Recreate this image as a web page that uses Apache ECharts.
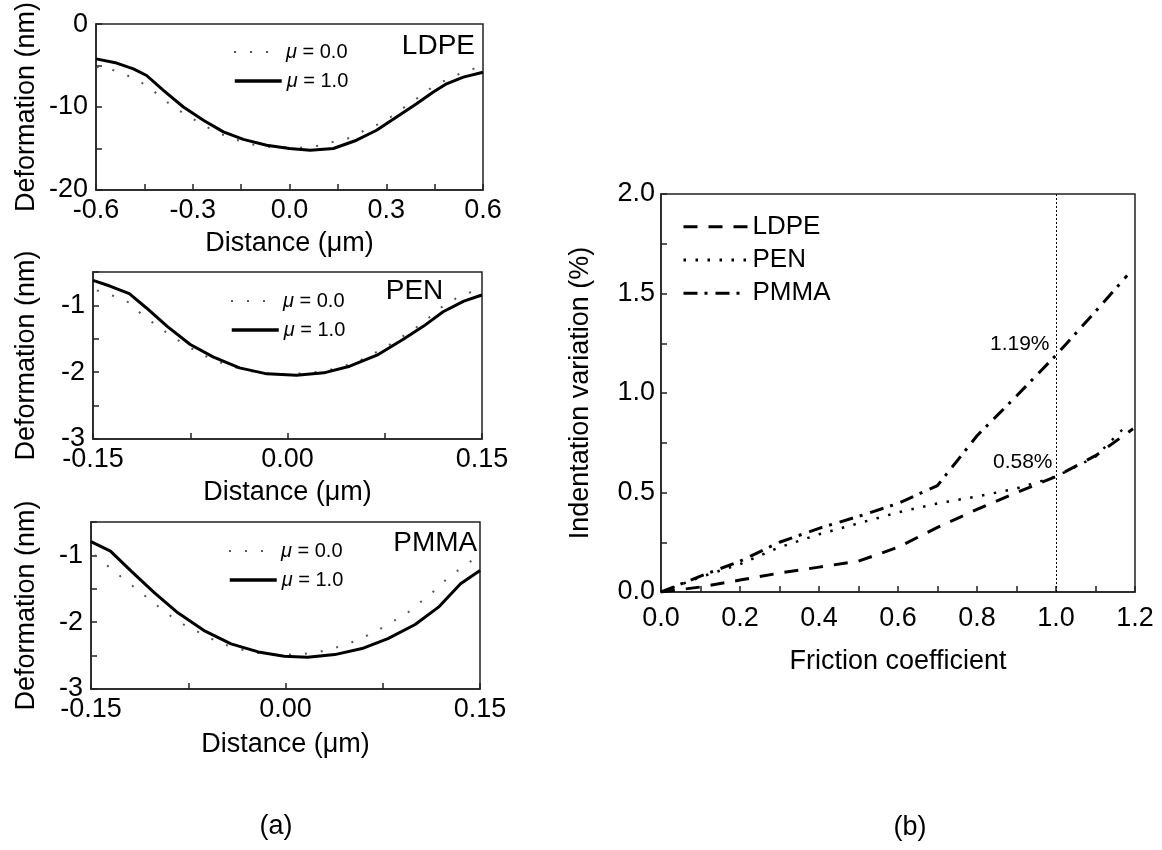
<!DOCTYPE html>
<html>
<head>
<meta charset="utf-8">
<style>
  html, body { margin: 0; padding: 0; background: #fff; }
  #chart { width: 1162px; height: 850px; }
</style>
<script src="https://cdn.jsdelivr.net/npm/echarts@6/dist/echarts.min.js"></script>
</head>
<body>
<div id="chart"></div>
<script>
// ---- (a) surface deformation profiles, LDPE ----
const ldpeDist0 = [-0.598, -0.567, -0.52, -0.474, -0.433, -0.393, -0.352, -0.309, -0.262, -0.216, -0.169, -0.117, -0.066, 0.033, 0.084, 0.136, 0.188, 0.234, 0.279, 0.322, 0.364, 0.405, 0.446, 0.493, 0.539, 0.586];
const ldpeDef0  = [-5.2, -5.3, -5.9, -6.7, -7.7, -9.0, -10.2, -11.2, -12.3, -13.2, -13.9, -14.5, -14.8, -14.9, -14.7, -14.2, -13.7, -12.8, -12.0, -11.0, -9.8, -8.7, -7.5, -6.6, -5.8, -5.2];
const ldpeDist1 = [-0.6, -0.536, -0.484, -0.443, -0.391, -0.329, -0.267, -0.205, -0.143, -0.071, 0.0, 0.064, 0.136, 0.208, 0.27, 0.332, 0.394, 0.446, 0.487, 0.539, 0.6];
const ldpeDef1  = [-4.2, -4.7, -5.4, -6.2, -8.0, -10.0, -11.6, -13.0, -13.9, -14.6, -15.0, -15.2, -15.0, -14.0, -12.8, -11.2, -9.6, -8.2, -7.2, -6.4, -5.8];

// ---- PEN ----
const penDist0 = [-0.147, -0.134, -0.122, -0.113, -0.102, -0.092, -0.08, -0.069, -0.058, -0.046, -0.034, -0.021, -0.008, 0.005, 0.018, 0.031, 0.043, 0.055, 0.066, 0.077, 0.088, 0.099, 0.109, 0.119, 0.13, 0.142];
const penDef0  = [-0.775, -0.86, -0.96, -1.125, -1.285, -1.425, -1.575, -1.7, -1.81, -1.895, -1.96, -2.01, -2.035, -2.025, -2.01, -1.975, -1.91, -1.835, -1.725, -1.61, -1.475, -1.335, -1.185, -1.025, -0.895, -0.795];
const penDist1 = [-0.15, -0.137, -0.122, -0.109, -0.093, -0.075, -0.057, -0.037, -0.016, 0.007, 0.028, 0.048, 0.069, 0.089, 0.105, 0.12, 0.136, 0.15];
const penDef1  = [-0.625, -0.71, -0.825, -1.035, -1.31, -1.585, -1.775, -1.935, -2.025, -2.045, -2.01, -1.91, -1.745, -1.51, -1.31, -1.095, -0.935, -0.845];

// ---- PMMA ----
const pmmaDist0 = [-0.147, -0.136, -0.126, -0.116, -0.105, -0.095, -0.085, -0.074, -0.062, -0.051, -0.039, -0.026, -0.013, 0.001, 0.014, 0.026, 0.038, 0.05, 0.062, 0.073, 0.084, 0.095, 0.105, 0.115, 0.124, 0.134, 0.145];
const pmmaDef0  = [-0.995, -1.175, -1.335, -1.485, -1.66, -1.81, -1.96, -2.085, -2.195, -2.31, -2.385, -2.445, -2.485, -2.485, -2.475, -2.445, -2.385, -2.31, -2.21, -2.1, -1.975, -1.845, -1.685, -1.525, -1.36, -1.21, -1.06];
const pmmaDist1 = [-0.15, -0.135, -0.119, -0.101, -0.083, -0.062, -0.042, -0.021, -0.001, 0.017, 0.038, 0.059, 0.079, 0.1, 0.118, 0.135, 0.15];
const pmmaDef1  = [-0.795, -0.935, -1.235, -1.56, -1.86, -2.135, -2.325, -2.445, -2.51, -2.525, -2.485, -2.395, -2.245, -2.035, -1.775, -1.425, -1.225];

// ---- (b) indentation variation vs. friction coefficient ----
const ldpeFriction = [0, 0.1, 0.2, 0.3, 0.4, 0.5, 0.6, 0.7, 0.8, 0.9, 1.0, 1.1, 1.195];
const ldpeVariation = [0, 0.025, 0.06, 0.095, 0.125, 0.155, 0.225, 0.325, 0.415, 0.5, 0.58, 0.685, 0.82];
const penFriction = [0, 0.1, 0.2, 0.3, 0.4, 0.5, 0.6, 0.7, 0.8, 0.9, 1.0, 1.1, 1.18];
const penVariation = [0, 0.075, 0.14, 0.225, 0.29, 0.345, 0.4, 0.445, 0.48, 0.52, 0.58, 0.68, 0.84];
const pmmaFriction = [0, 0.1, 0.2, 0.3, 0.4, 0.5, 0.6, 0.7, 0.8, 0.9, 1.0, 1.1, 1.18];
const pmmaVariation = [0, 0.08, 0.155, 0.25, 0.32, 0.38, 0.445, 0.535, 0.785, 0.985, 1.19, 1.41, 1.59];

// values called out at mu = 1.0
const refFriction = 1.0;
const noteFriction = [1.0, 1.0];
const noteVariation = [1.19, 0.58];

const muLabels = ['μ = 0.0', 'μ = 1.0'];
const materials = ['LDPE', 'PEN', 'PMMA'];

const FONT = "'Liberation Sans', Arial, Helvetica, sans-serif";
const AX = '#222';

function pairs(xs, ys) { return xs.map((x, i) => [x, ys[i]]); }

function baseAxis(gridIndex, o) {
  return Object.assign({
    type: 'value',
    gridIndex: gridIndex,
    nameLocation: 'middle',
    nameTextStyle: { fontSize: 27, color: '#000', fontFamily: FONT },
    axisLine: { show: true, onZero: false, lineStyle: { color: AX, width: 1.5 } },
    axisTick: { show: true, inside: true, length: 6, lineStyle: { color: AX, width: 1.5 } },
    axisLabel: { fontSize: 27, color: '#000', fontFamily: FONT, margin: 8, showMinLabel: true, showMaxLabel: true },
    splitLine: { show: false }
  }, o);
}

function withFmt(axis, fmt, margin) {
  axis.axisLabel = Object.assign({}, axis.axisLabel, { formatter: fmt });
  if (margin !== undefined) axis.axisLabel.margin = margin;
  return axis;
}

const fmtX1 = v => (Math.round(v / 0.15) % 2 === 0) ? (Math.abs(v) < 1e-9 ? 0 : v).toFixed(1) : '';
const fmtY1 = v => (Math.round(v / 5) % 2 === 0) ? String(Math.round(v)) : '';
const fmtX2 = v => (Math.round(v / 0.075) % 2 === 0) ? (Math.abs(v) < 1e-9 ? 0 : v).toFixed(2) : '';
const fmtY2 = v => (Math.abs(v - Math.round(v)) < 1e-6) ? String(Math.round(v)) : '';
const fmtXb = v => (Math.round(v * 10) % 2 === 0) ? v.toFixed(1) : '';
const fmtYb = v => (Math.round(v * 4) % 2 === 0) ? v.toFixed(1) : '';

const grids = [
  { left: 96, top: 23, width: 387, height: 167 },
  { left: 93, top: 272, width: 389, height: 167 },
  { left: 91, top: 522, width: 389, height: 167 },
  { left: 661, top: 194, width: 474, height: 398 }
].map(g => Object.assign({ show: true, borderColor: AX, borderWidth: 1.5, backgroundColor: '#fff', containLabel: false }, g));

const xAxes = [
  withFmt(baseAxis(0, { min: -0.6, max: 0.6, interval: 0.15, name: 'Distance (μm)', nameGap: 40 }), fmtX1, 7),
  withFmt(baseAxis(1, { min: -0.15, max: 0.15, interval: 0.075, name: 'Distance (μm)', nameGap: 40 }), fmtX2, 7),
  withFmt(baseAxis(2, { min: -0.15, max: 0.15, interval: 0.075, name: 'Distance (μm)', nameGap: 42 }), fmtX2, 7),
  withFmt(baseAxis(3, { min: 0, max: 1.2, interval: 0.1, name: 'Friction coefficient', nameGap: 56 }), fmtXb, 13)
];
const yAxes = [
  withFmt(baseAxis(0, { min: -20, max: 0, interval: 5, name: 'Deformation (nm)', nameGap: 56 }), fmtY1, 8),
  withFmt(baseAxis(1, { min: -3, max: -0.5, interval: 0.5, name: 'Deformation (nm)', nameGap: 53 }), fmtY2, 8),
  withFmt(baseAxis(2, { min: -3, max: -0.5, interval: 0.5, name: 'Deformation (nm)', nameGap: 51 }), fmtY2, 8),
  withFmt(baseAxis(3, { min: 0, max: 2, interval: 0.25, name: 'Indentation variation (%)', nameGap: 67 }), fmtYb, 6)
];

const dotStyle = { color: '#555', width: 2, type: [2, 14] };
const solidStyle = { color: '#000', width: 3, type: 'solid' };

function profile(name, idx, xs, ys, style) {
  return {
    name: name, type: 'line', xAxisIndex: idx, yAxisIndex: idx,
    data: pairs(xs, ys), symbol: 'none', smooth: false, silent: true,
    lineStyle: style, itemStyle: { color: style.color }, emphasis: { disabled: true }
  };
}

const series = [
  profile(muLabels[0], 0, ldpeDist0, ldpeDef0, dotStyle),
  profile(muLabels[1], 0, ldpeDist1, ldpeDef1, solidStyle),
  profile(muLabels[0], 1, penDist0, penDef0, dotStyle),
  profile(muLabels[1], 1, penDist1, penDef1, solidStyle),
  profile(muLabels[0], 2, pmmaDist0, pmmaDef0, dotStyle),
  profile(muLabels[1], 2, pmmaDist1, pmmaDef1, solidStyle),
  profile(materials[0], 3, ldpeFriction, ldpeVariation, { color: '#000', width: 3, type: [14, 11] }),
  profile(materials[1], 3, penFriction, penVariation, { color: '#000', width: 2.5, type: [2.5, 9.5] }),
  Object.assign(profile(materials[2], 3, pmmaFriction, pmmaVariation, { color: '#000', width: 3, type: [14, 7, 3, 8] }), {
    markLine: {
      silent: true, symbol: 'none', label: { show: false },
      lineStyle: { color: '#000', width: 1, type: [2, 2] },
      data: [{ xAxis: refFriction }]
    }
  }),
  {
    type: 'scatter', xAxisIndex: 3, yAxisIndex: 3, silent: true,
    data: pairs(noteFriction, noteVariation).map((v, i) => ({
      value: v,
      label: i === 0 ? { distance: 6, offset: [0, -11] } : { distance: 3, offset: [0, -14] }
    })),
    symbolSize: 1,
    itemStyle: { color: 'rgba(0,0,0,0)', opacity: 1 },
    label: {
      show: true, position: 'left', color: '#000', opacity: 1, fontSize: 21, fontFamily: FONT,
      formatter: p => p.value[1].toFixed(2) + '%'
    },
    emphasis: { disabled: true }
  }
];

// one legend block per entry so each row sits where it belongs
const legendRows = [];
[[96, 23], [93, 272], [91, 522]].forEach(([L, T]) => {
  muLabels.forEach((name, k) => {
    legendRows.push({
      left: L + 137, top: T + (k === 0 ? 19 : 48), padding: 0,
      itemWidth: 47, itemHeight: 12, selectedMode: false,
      itemStyle: { opacity: 0 },
      lineStyle: k === 0 ? { width: 2, color: '#555', type: [2, 14] } : { width: 3.5, color: '#000' },
      data: [name],
      formatter: n => '{i|μ}' + n.slice(1),
      textStyle: {
        fontSize: 20, lineHeight: 20, color: '#000', fontFamily: FONT,
        rich: { i: { fontStyle: 'italic', fontSize: 20, lineHeight: 20, fontFamily: FONT } }
      }
    });
  });
});
materials.forEach((name, k) => {
  legendRows.push({
    left: 682, top: 213.7 + k * 33.3, padding: 0,
    itemWidth: 64, itemHeight: 12, selectedMode: false,
    itemStyle: { opacity: 0 },
    lineStyle: { width: 3 },
    data: [name],
    textStyle: { fontSize: 26, lineHeight: 26, color: '#000', fontFamily: FONT }
  });
});

function txt(text, x, y, align, size) {
  return {
    type: 'text', x: x, y: y, silent: true,
    style: { text: text, fill: '#000', font: size + 'px ' + FONT, align: align, verticalAlign: 'middle' }
  };
}

const option = {
  animation: false,
  backgroundColor: '#fff',
  grid: grids,
  xAxis: xAxes,
  yAxis: yAxes,
  legend: legendRows,
  series: series,
  graphic: [
    txt(materials[0], 475, 46.7, 'right', 28),
    txt(materials[1], 443.3, 291.3, 'right', 28),
    txt(materials[2], 477.3, 543, 'right', 28),
    txt('(a)', 276, 827, 'center', 27),
    txt('(b)', 910, 828, 'center', 27)
  ]
};

const chart = echarts.init(document.getElementById('chart'), null, { renderer: 'canvas' });
chart.setOption(option);
</script>
</body>
</html>
